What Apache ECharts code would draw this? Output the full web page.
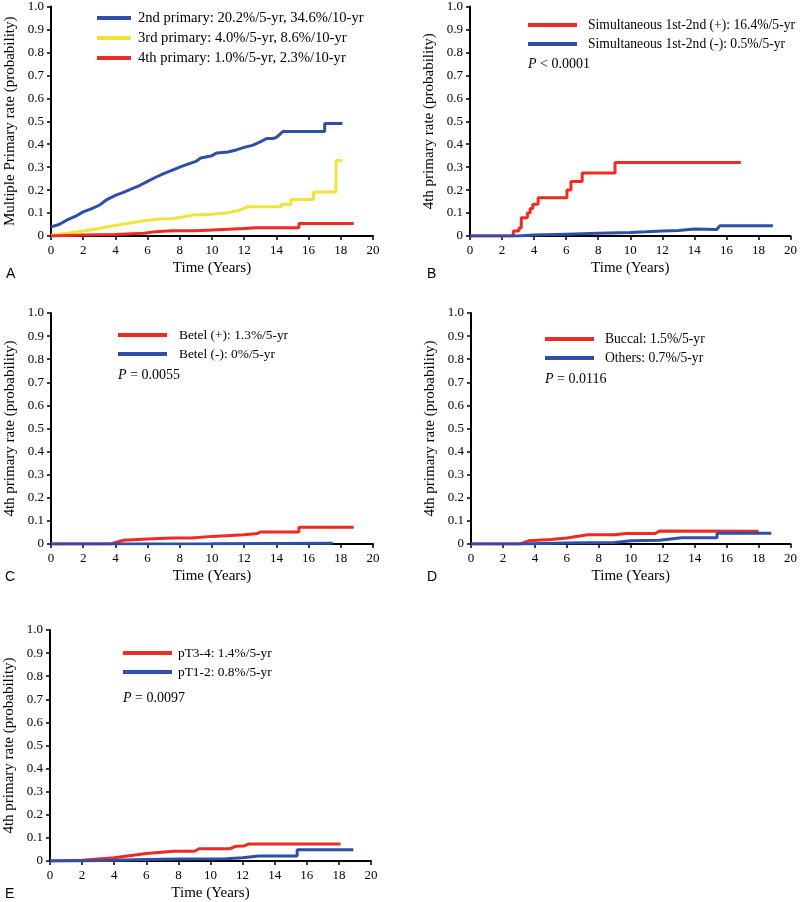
<!DOCTYPE html>
<html><head><meta charset="utf-8">
<script src="https://cdn.jsdelivr.net/npm/echarts@6/dist/echarts.min.js"></script>
<style>html,body{margin:0;padding:0;background:#fff}#c{width:800px;height:902px}</style>
</head><body><div id="c"></div>
<script>
// Panel A
const a2nd = [[0,0.04],[0.5,0.05],[1,0.07],[1.5,0.085],[2,0.105],[2.5,0.118],[3,0.134],[3.5,0.16],[4,0.177],[4.5,0.19],[5,0.205],[5.5,0.22],[6,0.238],[6.5,0.256],[7,0.272],[7.5,0.286],[8,0.30],[8.5,0.313],[9,0.325],[9.3,0.34],[10,0.35],[10.3,0.362],[11,0.366],[11.5,0.375],[12,0.386],[12.5,0.395],[13,0.41],[13.4,0.425],[13.8,0.425],[14,0.43],[14.4,0.455],[17,0.455],[17,0.49],[18.1,0.49]];
const a3rd = [[0,0.004],[1,0.012],[2,0.022],[3,0.033],[3.5,0.04],[4,0.046],[5,0.058],[6,0.069],[6.7,0.074],[7.5,0.075],[8,0.081],[8.8,0.091],[10,0.095],[11,0.101],[11.8,0.115],[12.2,0.127],[14.3,0.127],[14.3,0.137],[14.9,0.137],[14.9,0.159],[16.3,0.159],[16.3,0.192],[17.7,0.192],[17.7,0.329],[18.1,0.329]];
const a4th = [[0,0],[2,0.004],[4,0.007],[5.8,0.012],[6.5,0.019],[7.5,0.023],[9,0.023],[10,0.026],[12,0.033],[12.7,0.036],[15.4,0.036],[15.4,0.055],[18.8,0.055]];
// Panel B
const bPos = [[0,0],[2.7,0],[2.7,0.022],[3.05,0.022],[3.05,0.035],[3.2,0.035],[3.2,0.08],[3.58,0.08],[3.58,0.10],[3.75,0.10],[3.75,0.12],[3.92,0.12],[3.92,0.138],[4.25,0.138],[4.25,0.167],[6.05,0.167],[6.05,0.20],[6.3,0.20],[6.3,0.238],[7.0,0.238],[7.0,0.274],[9.05,0.274],[9.05,0.32],[16.9,0.32]];
const bNeg = [[0,0],[3,0],[4,0.004],[6,0.008],[8,0.012],[10,0.015],[11,0.018],[12,0.022],[13,0.024],[14,0.03],[15.4,0.028],[15.6,0.045],[18.9,0.045]];
// Panel C
const cPos = [[0,0],[3.7,0],[4.5,0.016],[6,0.022],[7.5,0.026],[8.7,0.026],[10,0.033],[12,0.04],[12.8,0.045],[13,0.052],[15.4,0.052],[15.4,0.072],[18.8,0.072]];
const cNeg = [[0,0],[10,0.001],[17.5,0.003]];
// Panel D
const dBuccal = [[0,0],[3.1,0],[3.6,0.014],[5,0.019],[6,0.026],[7.3,0.04],[9,0.04],[9.7,0.045],[11.5,0.045],[11.8,0.056],[18,0.055]];
const dOthers = [[0,0],[3,0],[6,0.004],[9,0.007],[10,0.014],[11.8,0.016],[13.2,0.027],[15.4,0.027],[15.4,0.046],[18.8,0.046]];
// Panel E
const eT34 = [[0,0],[2,0.003],[4,0.014],[6,0.032],[7.7,0.042],[9,0.042],[9.3,0.053],[11.2,0.053],[11.6,0.064],[12.1,0.065],[12.4,0.074],[18.1,0.074]];
const eT12 = [[0,0],[2,0],[4,0.003],[6,0.007],[8,0.009],[11,0.01],[12,0.014],[13,0.022],[15.4,0.022],[15.4,0.049],[18.9,0.049]];

const BLUE = '#2f4ea8', RED = '#ee2a24', YEL = '#f2e33b';
const FONT = 'Liberation Serif';

const grids = [
  {left:51, top:5, width:322, height:231},
  {left:470, top:5, width:323, height:231},
  {left:51, top:313, width:322, height:231},
  {left:471, top:313, width:322, height:231},
  {left:50, top:630, width:321, height:231}
];
const yNames = ['Multiple Primary rate (probability)','4th primary rate (probability)','4th primary rate (probability)','4th primary rate (probability)','4th primary rate (probability)'];

const axisCommon = {
  axisLine:{show:true, onZero:false, lineStyle:{color:'#000', width:2}},
  axisTick:{show:true, inside:false, length:4, lineStyle:{color:'#000', width:1.5}},
  splitLine:{show:false},
  nameTextStyle:{fontFamily:FONT, fontSize:15, color:'#000'}
};
const xAxes = grids.map((g,i)=>Object.assign({}, axisCommon, {
  type:'value', gridIndex:i, min:0, max:20, interval:2,
  name:'Time (Years)', nameLocation:'middle', nameGap:25,
  axisLabel:{fontFamily:FONT, fontSize:13, color:'#000', margin:8}
}));
const yAxes = grids.map((g,i)=>Object.assign({}, axisCommon, {
  type:'value', gridIndex:i, min:0, max:1, interval:0.1,
  name:yNames[i], nameLocation:'middle', nameGap:33,
  axisLabel:{fontFamily:FONT, fontSize:13, color:'#000', margin:7,
    formatter:v=> v===0 ? '0' : v.toFixed(1)}
}));

function ser(name, data, idx, color){
  return {name, type:'line', data, xAxisIndex:idx, yAxisIndex:idx, symbol:'none',
    lineStyle:{color, width:3}, itemStyle:{color}, animation:false, z:3};
}
const series = [
  ser('2nd primary: 20.2%/5-yr, 34.6%/10-yr', a2nd, 0, BLUE),
  ser('3rd primary: 4.0%/5-yr, 8.6%/10-yr', a3rd, 0, YEL),
  ser('4th primary: 1.0%/5-yr, 2.3%/10-yr', a4th, 0, RED),
  ser('Simultaneous 1st-2nd (+): 16.4%/5-yr', bPos, 1, RED),
  ser('Simultaneous 1st-2nd (-): 0.5%/5-yr', bNeg, 1, BLUE),
  ser('Betel (+): 1.3%/5-yr', cPos, 2, RED),
  ser('Betel (-): 0%/5-yr', cNeg, 2, BLUE),
  ser('Buccal: 1.5%/5-yr', dBuccal, 3, RED),
  ser('Others: 0.7%/5-yr', dOthers, 3, BLUE),
  ser('pT3-4: 1.4%/5-yr', eT34, 4, RED),
  ser('pT1-2: 0.8%/5-yr', eT12, 4, BLUE)
];

function leg(names, left, top, w, fs, gap, padL){
  return {data:names, orient:'vertical', left, top, icon:'rect', itemWidth:w, itemHeight:4,
    itemGap:gap, padding:0, selectedMode:false,
    textStyle:{fontFamily:FONT, fontSize:fs, color:'#000', lineHeight:16, padding:[0,0,0,padL]}};
}
const legends = [
  leg(series.slice(0,3).map(s=>s.name), 97, 10, 34, 14.6, 4, 2),
  leg(series.slice(3,5).map(s=>s.name), 528, 17, 49, 13.6, 3, 6),
  leg(series.slice(5,7).map(s=>s.name), 118, 327, 49, 13.4, 3, 7),
  leg(series.slice(7,9).map(s=>s.name), 545, 331, 49, 13.6, 3, 6),
  leg(series.slice(9,11).map(s=>s.name), 123, 645, 49, 13.4, 3, 1)
];

const pRich = {i:{fontFamily:FONT, fontSize:14, fontStyle:'italic', color:'#000'}};
function ptxt(txt, left, top){
  return {text:'{i|P} '+txt, left, top, padding:0,
    textStyle:{fontFamily:FONT, fontSize:14, fontWeight:'normal', color:'#000', rich:pRich}};
}
function letter(t, left, top){
  return {text:t, left, top, padding:0, textStyle:{fontFamily:'Liberation Sans', fontSize:14, fontWeight:'normal', color:'#000'}};
}
const titles = [
  letter('A', 6, 267), letter('B', 427, 267), letter('C', 5, 570), letter('D', 427, 570), letter('E', 5, 887),
  ptxt('< 0.0001', 528, 57), ptxt('= 0.0055', 118, 368), ptxt('= 0.0116', 545, 372), ptxt('= 0.0097', 123, 691)
];

const chart = echarts.init(document.getElementById('c'), null, {renderer:'canvas'});
chart.setOption({
  animation:false,
  backgroundColor:'#fff',
  title:titles,
  legend:legends,
  grid:grids,
  xAxis:xAxes,
  yAxis:yAxes,
  series
});
</script></body></html>
